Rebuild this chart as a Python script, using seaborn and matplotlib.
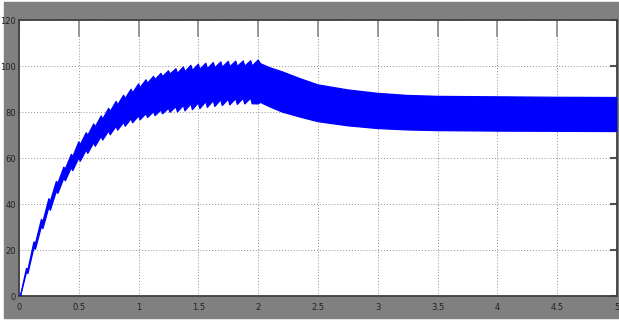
import numpy as np
import matplotlib
matplotlib.use("Agg")
import matplotlib.pyplot as plt
import seaborn as sns
from matplotlib.patches import Rectangle
from matplotlib import font_manager

# rise phase (0-2 s): one ripple tooth every 1/16 s
tooth_t = [0.0, 0.0625, 0.125, 0.1875, 0.25, 0.3125, 0.375, 0.4375, 0.5, 0.5625,
           0.625, 0.6875, 0.75, 0.8125, 0.875, 0.9375, 1.0, 1.0625, 1.125, 1.1875,
           1.25, 1.3125, 1.375, 1.4375, 1.5, 1.5625, 1.625, 1.6875, 1.75, 1.8125,
           1.875, 1.9375, 2.0]
upper_peak = [0, 12.0, 23.5, 33.3, 42.3, 49.8, 56.0, 61.6, 67.0, 71.0,
              74.8, 78.3, 81.6, 84.6, 87.3, 89.9, 92.2, 94.0, 95.5, 96.8,
              97.9, 98.8, 99.6, 100.3, 100.8, 101.2, 101.5, 101.8, 102.0, 102.1,
              102.2, 102.3, 102.6]
upper_base = [0, 11.5, 22.8, 32.3, 41.2, 49.0, 55.2, 60.6, 65.8, 69.8,
              73.5, 76.9, 80.2, 83.1, 85.8, 88.3, 90.6, 92.5, 94.1, 95.4,
              96.5, 96.8, 97.5, 98.1, 98.5, 98.9, 99.2, 99.5, 99.7, 99.8,
              99.9, 100.0, 100.0]
lower_base = [0, 10.3, 21.0, 30.2, 38.5, 45.5, 51.2, 55.8, 60.0, 63.5,
              66.6, 69.4, 71.8, 73.8, 75.5, 77.0, 78.3, 79.3, 80.1, 80.9,
              81.6, 82.3, 82.9, 83.5, 84.0, 84.5, 84.9, 85.3, 85.6, 85.8,
              85.9, 86.0, 85.5]
lower_spike = [0, 9.8, 20.3, 29.3, 37.3, 44.6, 50.1, 54.5, 58.6, 62.0,
               65.1, 67.8, 70.1, 72.1, 73.8, 75.3, 76.6, 77.6, 78.4, 79.2,
               79.9, 80.0, 80.5, 81.0, 81.5, 82.0, 82.4, 82.8, 83.1, 83.3,
               83.5, 83.6, 83.5]

# decay phase (2-5 s): dense band
late_t = [2.0, 2.02, 2.05, 2.1, 2.2, 2.35, 2.5, 2.75, 3.0, 3.25, 3.5, 4.0, 4.5, 5.0]
late_upper = [102.6, 101.0, 100.3, 99.2, 97.5, 94.5, 91.8, 89.6, 88.1, 87.2, 86.8, 86.6, 86.4, 86.3]
late_lower = [83.5, 84.2, 83.4, 82.2, 80.0, 77.8, 75.8, 74.0, 72.8, 72.2, 71.9, 71.7, 71.6, 71.5]

x_ticks = [0, 0.5, 1, 1.5, 2, 2.5, 3, 3.5, 4, 4.5, 5]
x_labels = ["0", "0.5", "1", "1.5", "2", "2.5", "3", "3.5", "4", "4.5", "5"]
y_ticks = [0, 20, 40, 60, 80, 100, 120]

# tooth outlines: upper drops from its peak then ramps, lower dips to its spike then ramps
period = 0.0625
tu, yu, tl, yl = [], [], [], []
for i, t in enumerate(tooth_t[:-1]):
    tu += [t, t + 0.2 * period]
    yu += [upper_peak[i], upper_base[i]]
    tl += [t, t + 0.2 * period]
    yl += [lower_base[i], lower_spike[i]]
tu = np.array(tu + late_t)
yu = np.array(yu + late_upper)
tl = np.array(tl + late_t)
yl = np.array(yl + late_lower)

sns.set_style("white")
names = {f.name for f in font_manager.fontManager.ttflist}
tick_font = "Liberation Sans Narrow" if "Liberation Sans Narrow" in names else "DejaVu Sans"

fig = plt.figure(figsize=(6.19, 3.24), dpi=100)
fig.patch.set_facecolor("white")
bg = Rectangle((4 / 619, 6 / 324), 615 / 619, 316 / 324,
               transform=fig.transFigure, color="#808080", zorder=-10)
fig.add_artist(bg)
ax = fig.add_axes([19 / 619, 28 / 324, 598 / 619, 276 / 324])
ax.set_facecolor("white")

ax.fill(np.concatenate([tu, tl[::-1]]), np.concatenate([yu, yl[::-1]]),
        color="#0000ff", linewidth=0, zorder=3)
sns.lineplot(x=tu, y=yu, ax=ax, color="#0000ff", linewidth=0.9, zorder=3)
sns.lineplot(x=tl, y=yl, ax=ax, color="#0000ff", linewidth=0.9, zorder=3)

ax.set_xlim(0, 5)
ax.set_ylim(0, 120)
ax.set_xticks(x_ticks)
ax.set_xticklabels(x_labels)
ax.set_yticks(y_ticks)
ax.grid(True, linestyle=(0, (1, 2)), color="#909090", linewidth=0.7, zorder=1)
ax.tick_params(axis="x", direction="in", length=12, width=1.2, color="#8a8a8a",
               top=True, labelsize=6, labelcolor="#222222", pad=5)
ax.tick_params(axis="y", direction="in", length=5, width=1.5, color="#505050",
               right=True, labelsize=6, labelcolor="#222222", pad=2)
for lab in ax.get_xticklabels() + ax.get_yticklabels():
    lab.set_fontfamily(tick_font)
for s in ax.spines.values():
    s.set_color("#404040")
    s.set_linewidth(1.3)

fig.savefig("out.png", dpi=100)
